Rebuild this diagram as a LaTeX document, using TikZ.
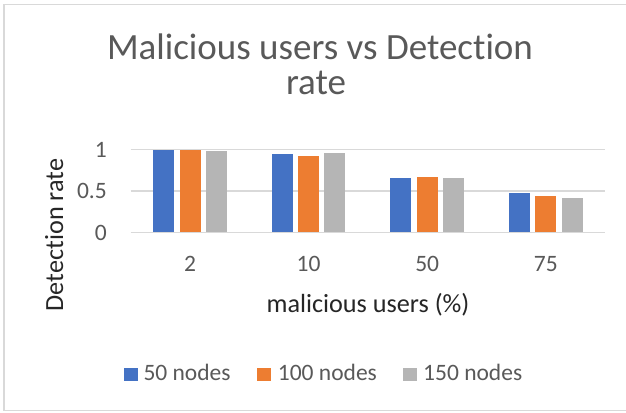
\documentclass[tikz,border=0pt]{standalone}
\usepackage{fontspec}
\setmainfont{Carlito}[Ligatures={NoCommon}, Contextuals={NoAlternate}]
\definecolor{cblue}{HTML}{4472C4}
\definecolor{corange}{HTML}{ED7D31}
\definecolor{cgray}{HTML}{B5B5B5}
\definecolor{grid}{HTML}{D9D9D9}
\definecolor{tlab}{HTML}{595959}
\definecolor{atit}{HTML}{262626}
\begin{document}
\begin{tikzpicture}[x=1pt,y=-1pt,
  ticklab/.style={font=\fontsize{23.5}{28}\selectfont, text=tlab, inner sep=0pt},
  axtitle/.style={font=\fontsize{26.2}{31}\selectfont, text=atit, inner sep=0pt},
  ttl/.style={font=\fontsize{37}{44}\selectfont, text=tlab, inner sep=0pt},
  gridline/.style={draw=grid, line width=1.6pt},
  bar/.style={draw=none}]
\useasboundingbox (0,0) rectangle (626,412);
\fill[white] (0,0) rectangle (626,412);
\draw[grid, line width=1.2pt] (4,4.5) rectangle (630,410.5);
% title
\node[ttl, anchor=base] (t1) at (320,59.3) {Malicious users vs Detect\kern0pt ion};
\node[ttl, anchor=base] (t2) at (316,94) {rate};
% gridlines
\foreach \v/\n in {0/g0,0.5/g1,1/g2}{
  \draw[gridline] (130.7,{232.3-82.8*\v}) -- (605,{232.3-82.8*\v});
}
% tick labels
\node[ticklab, anchor=base east] (y0) at (107,240) {0};
\node[ticklab, anchor=base east] (y1) at (107,198.6) {0.5};
\node[ticklab, anchor=base east] (y2) at (107,157.2) {1};
% bars
\foreach \i/\a/\b/\c in {0/0.99/1.0/0.98, 1/0.94/0.92/0.96, 2/0.66/0.67/0.65, 3/0.48/0.44/0.42}{
  \pgfmathsetmacro{\cx}{190+118.6*\i}
  \fill[cblue]   ({\cx-26.3-10.5},232.3) rectangle ({\cx-26.3+10.5},{232.3-82.8*\a});
  \fill[corange] ({\cx-10.5},232.3) rectangle ({\cx+10.5},{232.3-82.8*\b});
  \fill[cgray]   ({\cx+26.3-10.5},232.3) rectangle ({\cx+26.3+10.5},{232.3-82.8*\c});
}
% category labels
\node[ticklab, anchor=base] (c1) at (190,271.7) {2};
\node[ticklab, anchor=base] (c2) at (308.6,271.7) {10};
\node[ticklab, anchor=base] (c3) at (427.2,271.7) {50};
\node[ticklab, anchor=base] (c4) at (545.8,271.7) {75};
% axis titles
\node[axtitle, anchor=base] (xt) at (368,312) {malicious users (\%)};
\node[axtitle, anchor=base, rotate=90] (yt) at (63,235) {Detect\kern0pt ion rate};
% legend
\fill[cblue] (124,368) rectangle (137.7,380.7);
\node[ticklab, anchor=base west] (l1) at (143.3,380.7) {50 nodes};
\fill[corange] (256.7,368) rectangle (270.7,380.7);
\node[ticklab, anchor=base west] (l2) at (277.7,380.7) {100 nodes};
\fill[cgray] (403.3,368) rectangle (417,380.7);
\node[ticklab, anchor=base west] (l3) at (423,380.7) {150 nodes};
\end{tikzpicture}
\end{document}
